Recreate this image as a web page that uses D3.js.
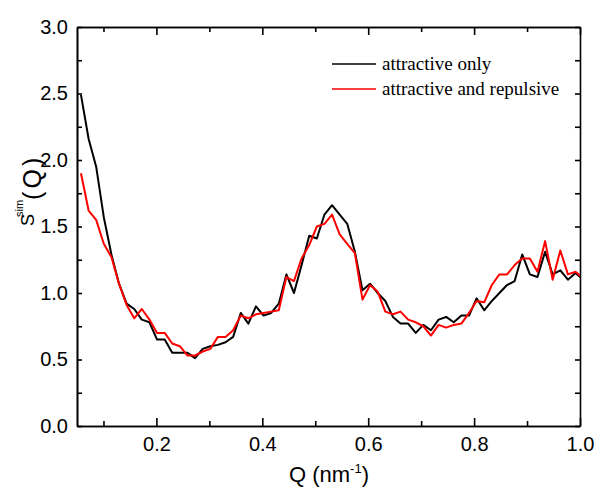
<!DOCTYPE html>
<html>
<head>
<meta charset="utf-8">
<script src="https://cdn.jsdelivr.net/npm/d3@7"></script>
<style>
  body { margin: 0; background: #fff; }
  svg { display: block; }
  .axis path, .axis line { stroke: #000; stroke-width: 1.6; }
  .axis text { font-family: "Liberation Sans", Arial, sans-serif; font-size: 20px; fill: #000; }
</style>
</head>
<body>
<svg id="chart"></svg>
<script>
// Q values (nm^-1)
const qValues = [0.0575, 0.0719, 0.0862, 0.1006, 0.1150, 0.1293, 0.1437, 0.1581, 0.1724, 0.1868,
  0.2012, 0.2156, 0.2299, 0.2443, 0.2587, 0.2730, 0.2874, 0.3018, 0.3161, 0.3305,
  0.3449, 0.3593, 0.3736, 0.3880, 0.4024, 0.4167, 0.4311, 0.4455, 0.4598, 0.4742,
  0.4886, 0.5030, 0.5173, 0.5317, 0.5461, 0.5604, 0.5748, 0.5892, 0.6035, 0.6179,
  0.6323, 0.6467, 0.6610, 0.6754, 0.6898, 0.7041, 0.7185, 0.7329, 0.7472, 0.7616,
  0.7760, 0.7904, 0.8047, 0.8191, 0.8335, 0.8478, 0.8622, 0.8766, 0.8909, 0.9053,
  0.9197, 0.9341, 0.9484, 0.9628, 0.9772, 0.9915, 1.0059];

const attractiveOnly = [2.49, 2.16, 1.95, 1.57, 1.29, 1.07, 0.92, 0.88, 0.80, 0.78,
  0.65, 0.65, 0.55, 0.55, 0.55, 0.51, 0.58, 0.60, 0.61, 0.63,
  0.67, 0.85, 0.77, 0.90, 0.83, 0.85, 0.92, 1.14, 1.00, 1.21,
  1.43, 1.41, 1.59, 1.66, 1.59, 1.52, 1.31, 1.02, 1.07, 1.00,
  0.94, 0.82, 0.77, 0.77, 0.70, 0.76, 0.72, 0.80, 0.82, 0.78,
  0.83, 0.83, 0.96, 0.87, 0.94, 1.00, 1.06, 1.09, 1.29, 1.14,
  1.12, 1.31, 1.14, 1.17, 1.10, 1.15, 1.10];

const attractiveRepulsive = [1.90, 1.62, 1.55, 1.37, 1.27, 1.07, 0.91, 0.81, 0.88, 0.80,
  0.70, 0.70, 0.62, 0.60, 0.53, 0.53, 0.56, 0.58, 0.67, 0.67,
  0.72, 0.83, 0.81, 0.84, 0.85, 0.86, 0.87, 1.12, 1.09, 1.26,
  1.36, 1.50, 1.52, 1.59, 1.44, 1.37, 1.30, 0.95, 1.06, 1.01,
  0.86, 0.84, 0.86, 0.80, 0.78, 0.75, 0.68, 0.76, 0.74, 0.76,
  0.77, 0.85, 0.94, 0.93, 1.06, 1.14, 1.14, 1.21, 1.26, 1.26,
  1.16, 1.39, 1.10, 1.32, 1.14, 1.16, 1.11];

const seriesNames = ["attractive only", "attractive and repulsive"];
const seriesColors = ["#000000", "#ff0000"];

const xTicks = [0.2, 0.4, 0.6, 0.8, 1.0];
const xMinorTicks = [0.1, 0.3, 0.5, 0.7, 0.9];
const yTicks = [0.0, 0.5, 1.0, 1.5, 2.0, 2.5, 3.0];
const yMinorTicks = [0.25, 0.75, 1.25, 1.75, 2.25, 2.75];

const totalWidth = 597, totalHeight = 489;
const margin = {top: 27, right: 17, bottom: 63, left: 77};
const width = totalWidth - margin.left - margin.right;
const height = totalHeight - margin.top - margin.bottom;

const svg = d3.select("#chart")
    .attr("width", totalWidth)
    .attr("height", totalHeight);

const g = svg.append("g")
    .attr("transform", "translate(" + margin.left + "," + margin.top + ")");

const x = d3.scaleLinear().domain([0.05, 1.0]).range([0, width]);
const y = d3.scaleLinear().domain([0, 3.0]).range([height, 0]);

g.append("clipPath").attr("id", "plotclip")
    .append("rect").attr("width", width).attr("height", height);

// axes, ticks pointing inward
g.append("g").attr("class", "axis")
    .attr("transform", "translate(0," + height + ")")
    .call(d3.axisBottom(x).tickValues(xTicks).tickFormat(d3.format(".1f"))
        .tickSizeInner(-8).tickSizeOuter(0).tickPadding(11));
g.append("g").attr("class", "axis")
    .attr("transform", "translate(0," + height + ")")
    .call(d3.axisBottom(x).tickValues(xMinorTicks).tickFormat("")
        .tickSizeInner(-5).tickSizeOuter(0));
g.append("g").attr("class", "axis")
    .call(d3.axisTop(x).tickValues(xTicks).tickFormat("")
        .tickSizeInner(-8).tickSizeOuter(0));
g.append("g").attr("class", "axis")
    .call(d3.axisTop(x).tickValues(xMinorTicks).tickFormat("")
        .tickSizeInner(-5).tickSizeOuter(0));

g.append("g").attr("class", "axis")
    .call(d3.axisLeft(y).tickValues(yTicks).tickFormat(d3.format(".1f"))
        .tickSizeInner(-5).tickSizeOuter(0).tickPadding(9));
g.append("g").attr("class", "axis")
    .call(d3.axisLeft(y).tickValues(yMinorTicks).tickFormat("")
        .tickSizeInner(-5).tickSizeOuter(0));
g.append("g").attr("class", "axis")
    .attr("transform", "translate(" + width + ",0)")
    .call(d3.axisRight(y).tickValues(yTicks.concat(yMinorTicks)).tickFormat("")
        .tickSizeInner(-5).tickSizeOuter(0));

// lines
const line = d3.line()
    .x(function (d) { return x(d[0]); })
    .y(function (d) { return y(d[1]); });

[attractiveOnly, attractiveRepulsive].forEach(function (vals, i) {
    g.append("path")
        .datum(qValues.map(function (q, k) { return [q, vals[k]]; }))
        .attr("clip-path", "url(#plotclip)")
        .attr("fill", "none")
        .attr("stroke", seriesColors[i])
        .attr("stroke-width", 2)
        .attr("stroke-linejoin", "round")
        .attr("d", line);
});

// legend
const legend = g.append("g")
    .attr("transform", "translate(" + (332 - margin.left) + "," + (64 - margin.top) + ")");
seriesNames.forEach(function (name, i) {
    legend.append("line")
        .attr("x1", 0).attr("x2", 44)
        .attr("y1", i * 25).attr("y2", i * 25)
        .attr("stroke", seriesColors[i])
        .attr("stroke-width", 1.6);
    legend.append("text")
        .attr("x", 50).attr("y", i * 25 + 6)
        .attr("font-family", "'Liberation Serif', 'Times New Roman', serif")
        .attr("font-size", 19)
        .text(name);
});

// axis titles
const xTitle = svg.append("text")
    .attr("x", 329).attr("y", 482)
    .attr("text-anchor", "middle")
    .attr("font-family", "'Liberation Sans', Arial, sans-serif")
    .attr("font-size", 22);
xTitle.append("tspan").text("Q (nm");
xTitle.append("tspan").attr("font-size", 13).attr("dy", -9).text("-1");
xTitle.append("tspan").attr("dy", 9).text(")");

// the S, the superscript and (Q) sit a bit apart in the original
const yTitle = svg.append("text")
    .attr("transform", "translate(34,226) rotate(-90)")
    .attr("font-family", "'Liberation Sans', Arial, sans-serif")
    .attr("font-size", 18);
yTitle.append("tspan").text("S");
yTitle.append("tspan").attr("font-size", 11).attr("dx", -3).attr("dy", -11).text("sim");
yTitle.append("tspan").attr("font-size", 25).attr("dy", 18)
    .style("letter-spacing", "3px").text("(Q)");
</script>
</body>
</html>
